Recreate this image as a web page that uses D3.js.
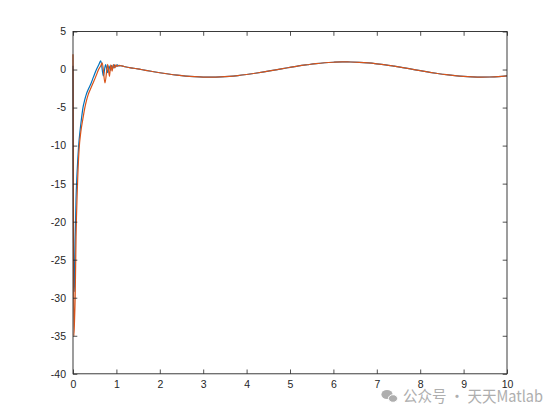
<!DOCTYPE html>
<html><head><meta charset="utf-8">
<script src="https://cdn.jsdelivr.net/npm/d3@7"></script>
<style>html,body{margin:0;padding:0;background:#fff;}svg{display:block;}</style>
</head><body>
<svg id="c" width="560" height="420"></svg>
<script>
// ---- data ----
const xTicks = [0,1,2,3,4,5,6,7,8,9,10];
const yTicks = [5,0,-5,-10,-15,-20,-25,-30,-35,-40];

// transient part, series 1 (blue)
const tBlue = [0,0.005,0.015,0.03,0.04,0.05,0.07,0.09,0.11,0.13,0.16,0.19,0.23,0.27,0.31,0.36,0.41,0.47,0.54,0.60,0.64,0.70,0.75,0.80,0.83,0.86,0.89,0.92,0.95,0.98,1.02,1.06,1.10,1.15];
const vBlue = [0.5,-12,-25,-29.2,-27,-22.5,-17,-14,-11.8,-10,-8.2,-6.7,-5.0,-4.0,-3.2,-2.5,-1.9,-1.0,0.0,0.7,1.15,-0.85,0.65,-0.4,0.5,-0.1,0.55,0.15,0.6,0.35,0.6,0.48,0.5,0.45];

// transient part, series 2 (orange)
const tOrange = [0,0.003,0.02,0.035,0.05,0.07,0.10,0.14,0.18,0.23,0.27,0.31,0.35,0.40,0.46,0.52,0.59,0.64,0.675,0.737,0.80,0.84,0.87,0.90,0.93,0.96,0.99,1.02,1.06,1.10,1.15];
const vOrange = [2,-5,-35,-33,-30,-22,-15.7,-10.5,-8.2,-6.4,-5.1,-4.1,-3.3,-2.6,-1.8,-1.0,0.0,0.5,0.88,-1.75,0.67,-0.9,0.6,-0.2,0.65,0.2,0.6,0.4,0.55,0.5,0.45];

// steady tracking part shared by both series
const tSteady = [1.2,1.4,1.6,1.8,2.0,2.2,2.4,2.6,2.8,3.0,3.2,3.4,3.6,3.8,4.0,4.2,4.4,4.6,4.8,5.0,5.2,5.4,5.6,5.8,6.0,6.2,6.4,6.6,6.8,7.0,7.2,7.4,7.6,7.8,8.0,8.2,8.4,8.6,8.8,9.0,9.2,9.4,9.6,9.8,10.0];
const vSteady = [0.36,0.17,-0.03,-0.23,-0.42,-0.59,-0.74,-0.86,-0.94,-0.99,-1.00,-0.97,-0.90,-0.79,-0.65,-0.49,-0.31,-0.11,0.09,0.28,0.47,0.63,0.78,0.89,0.96,1.00,0.99,0.95,0.87,0.75,0.61,0.44,0.26,0.06,-0.15,-0.34,-0.52,-0.68,-0.81,-0.91,-0.97,-1.00,-0.98,-0.93,-0.84];

// ---- layout ----
const L = 73, R = 507, T = 31.5, B = 373.8;
const svg = d3.select("#c");
const x = d3.scaleLinear().domain([0,10]).range([L,R]);
const y = d3.scaleLinear().domain([-40,5]).range([B,T]);
const axisColor = "#262626";
const tick = 4.3;

// watermark
const wm = svg.append("g").attr("fill","#aeaeae");
wm.append("ellipse").attr("cx",387).attr("cy",394.5).attr("rx",5.6).attr("ry",4.6);
wm.append("ellipse").attr("cx",393).attr("cy",398.5).attr("rx",4.6).attr("ry",3.8).attr("stroke","#fff").attr("stroke-width",1);
wm.append("text").attr("x",403).attr("y",401.5)
  .attr("font-family","'Noto Sans CJK SC'").attr("font-size",15.5)
  .attr("textLength",140).attr("lengthAdjust","spacingAndGlyphs")
  .text("公众号 · 天天Matlab");

function mk(ts, vs){ return ts.map((t,i)=>({t, v: vs[i]})); }
const blue = mk(tBlue.concat(tSteady), vBlue.concat(vSteady));
const orange = mk(tOrange.concat(tSteady), vOrange.concat(vSteady));

const line = d3.line().x(d=>x(d.t)).y(d=>y(d.v)).curve(d3.curveMonotoneX);
const gLines = svg.append("g");
gLines.append("path").datum(blue).attr("d",line).attr("fill","none")
  .attr("stroke","#0072BD").attr("stroke-width",1.2).attr("stroke-linejoin","round");
gLines.append("path").datum(orange).attr("d",line).attr("fill","none")
  .attr("stroke","#D95319").attr("stroke-width",1.2).attr("stroke-linejoin","round");

// axes
function style(g){
  g.select(".domain").remove();
  g.selectAll(".tick line").attr("stroke",axisColor).attr("stroke-width",0.8);
  g.selectAll(".tick text").attr("fill",axisColor)
    .attr("font-family","'Liberation Sans', Arial, sans-serif").attr("font-size",10.5);
}
const fmt = d => String(d);
svg.append("g").attr("transform",`translate(0,${B})`)
  .call(d3.axisBottom(x).tickValues(xTicks).tickFormat(fmt).tickSizeInner(-tick).tickSizeOuter(0).tickPadding(7))
  .call(style);
svg.append("g").attr("transform",`translate(0,${T})`)
  .call(d3.axisTop(x).tickValues(xTicks).tickFormat("").tickSizeInner(-tick).tickSizeOuter(0))
  .call(style);
svg.append("g").attr("transform",`translate(${L},0)`)
  .call(d3.axisLeft(y).tickValues(yTicks).tickFormat(fmt).tickSizeInner(-tick).tickSizeOuter(0).tickPadding(7))
  .call(style);
svg.append("g").attr("transform",`translate(${R},0)`)
  .call(d3.axisRight(y).tickValues(yTicks).tickFormat("").tickSizeInner(-tick).tickSizeOuter(0))
  .call(style);
svg.append("rect").attr("x",L).attr("y",T).attr("width",R-L).attr("height",B-T)
  .attr("fill","none").attr("stroke",axisColor).attr("stroke-width",0.9);
</script>
</body></html>
